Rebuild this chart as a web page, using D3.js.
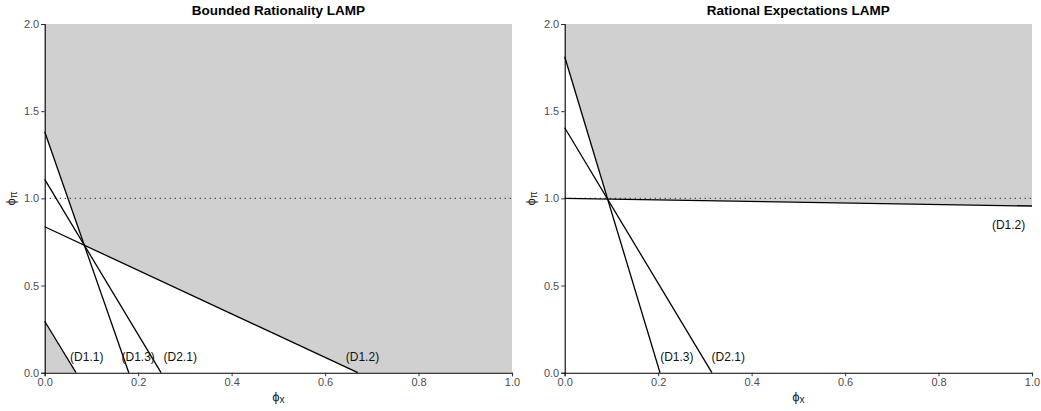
<!DOCTYPE html>
<html><head><meta charset="utf-8">
<script src="https://cdn.jsdelivr.net/npm/d3@7/dist/d3.min.js"></script>
<style>body{margin:0;background:#fff}svg{display:block;font-family:"Liberation Sans",Arial,sans-serif}</style>
</head><body><svg id="c" width="1041" height="411"></svg>
<script>
// ---- data ----
const xTicks = [0, 0.2, 0.4, 0.6, 0.8, 1.0];
const yTicks = [0, 0.5, 1.0, 1.5, 2.0];
const refLineY = 1.0;

const leftTitle = "Bounded Rationality LAMP";
const leftNames = ["(D1.1)", "(D1.3)", "(D2.1)", "(D1.2)"];
const leftStartY = [0.295, 1.382, 1.109, 0.837];   // value at phi_x = 0
const leftEndX = [0.067, 0.180, 0.249, 0.670];
const leftEndY = [0, 0, 0, 0];
const leftLabelX = [0.09, 0.20, 0.29, 0.68];
const leftLabelY = [0.09, 0.09, 0.09, 0.09];
const leftUpperIdx = [1, 3];   // lines bounding the shaded upper region
const leftLowerIdx = [0];      // line bounding the shaded lower triangle

const rightTitle = "Rational Expectations LAMP";
const rightNames = ["(D1.3)", "(D2.1)", "(D1.2)"];
const rightStartY = [1.812, 1.405, 1.0];
const rightEndX = [0.204, 0.315, 1.0];
const rightEndY = [0, 0, 0.956];
const rightLabelX = [0.24, 0.35, 0.95];
const rightLabelY = [0.09, 0.09, 0.85];
const rightUpperIdx = [0, 2];
const rightLowerIdx = [];

const svg = d3.select("#c");
const plotTop = 24, plotBottom = 372.7;
const fill = "#d0d0d0";
const PHI = "\u03D5";

function lineFn(s, ex, ey) {
  const slope = (ey - s) / ex;
  return x => s + slope * x;
}

function panel(left, right, title, names, sy, ex, ey, lx, ly, upIdx, lowIdx) {
  const x = d3.scaleLinear().domain([0, 1]).range([left, right]);
  const y = d3.scaleLinear().domain([0, 2]).range([plotBottom, plotTop]);
  const g = svg.append("g");
  const fns = names.map((_, i) => lineFn(sy[i], ex[i], ey[i]));

  function breaks(idx) {
    const b = [0, 1];
    idx.forEach(i => {
      const slope = (ey[i] - sy[i]) / ex[i];
      if (slope !== 0) { const r = -sy[i] / slope; if (r > 0 && r < 1) b.push(r); }
    });
    for (let a = 0; a < idx.length; a++) for (let c = a + 1; c < idx.length; c++) {
      const i = idx[a], j = idx[c];
      const si = (ey[i] - sy[i]) / ex[i], sj = (ey[j] - sy[j]) / ex[j];
      if (si !== sj) { const xi = (sy[j] - sy[i]) / (si - sj); if (xi > 0 && xi < 1) b.push(xi); }
    }
    return b.sort((p, q) => p - q);
  }
  if (upIdx.length) {
    const pts = breaks(upIdx).map(v => [v, Math.max(0, d3.max(upIdx, i => fns[i](v)))]);
    pts.push([1, 2], [0, 2]);
    g.append("path").attr("d", d3.line().x(d => x(d[0])).y(d => y(d[1]))(pts) + "Z")
      .attr("fill", fill);
  }
  lowIdx.forEach(i => {
    const pts = [[0, 0], [0, sy[i]], [ex[i], ey[i]]];
    g.append("path").attr("d", d3.line().x(d => x(d[0])).y(d => y(d[1]))(pts) + "Z")
      .attr("fill", fill);
  });

  g.append("line").attr("x1", x(0)).attr("x2", x(1)).attr("y1", y(refLineY)).attr("y2", y(refLineY))
    .attr("stroke", "#444").attr("stroke-width", 1.1).attr("stroke-dasharray", "1.2,3.8");

  names.forEach((n, i) => {
    g.append("line").attr("x1", x(0)).attr("y1", y(sy[i])).attr("x2", x(ex[i])).attr("y2", y(ey[i]))
      .attr("stroke", "#000").attr("stroke-width", 1.3);
  });

  names.forEach((n, i) => {
    g.append("text").attr("x", x(lx[i])).attr("y", y(ly[i])).attr("dy", "0.35em")
      .attr("text-anchor", "middle").attr("font-size", 12).attr("fill", "#111").text(n);
  });

  const xa = g.append("g").attr("transform", `translate(0,${plotBottom})`)
    .call(d3.axisBottom(x).tickValues(xTicks).tickFormat(d3.format(".1f")).tickSize(3.5).tickPadding(2));
  const ya = g.append("g").attr("transform", `translate(${left},0)`)
    .call(d3.axisLeft(y).tickValues(yTicks).tickFormat(d3.format(".1f")).tickSize(3.5).tickPadding(2));
  [xa, ya].forEach(a => {
    a.select(".domain").attr("stroke", "#000").attr("stroke-width", 1.1);
    a.selectAll(".tick line").attr("stroke", "#333");
    a.selectAll(".tick text").attr("fill", "#4d4d4d").attr("font-size", 11)
      .attr("font-family", '"Liberation Sans",Arial,sans-serif');
  });

  g.append("text").attr("x", (left + right) / 2).attr("y", 15).attr("text-anchor", "middle")
    .attr("font-size", 13.5).attr("font-weight", "bold").attr("fill", "#000").text(title);

  const xt = g.append("text").attr("x", (left + right) / 2).attr("y", 401).attr("text-anchor", "middle")
    .attr("font-size", 13).attr("fill", "#222");
  xt.append("tspan").text(PHI);
  xt.append("tspan").attr("font-size", 10).attr("dy", 2).text("x");
  const yt = g.append("text").attr("transform", `translate(${left - 30},${(plotTop + plotBottom) / 2}) rotate(-90)`)
    .attr("text-anchor", "middle").attr("font-size", 13).attr("fill", "#222");
  yt.append("tspan").text(PHI);
  yt.append("tspan").attr("font-size", 10).attr("dy", 2).text("π");
}

panel(44.7, 512, leftTitle, leftNames, leftStartY, leftEndX, leftEndY, leftLabelX, leftLabelY, leftUpperIdx, leftLowerIdx);
panel(564.7, 1032, rightTitle, rightNames, rightStartY, rightEndX, rightEndY, rightLabelX, rightLabelY, rightUpperIdx, rightLowerIdx);
</script></body></html>
